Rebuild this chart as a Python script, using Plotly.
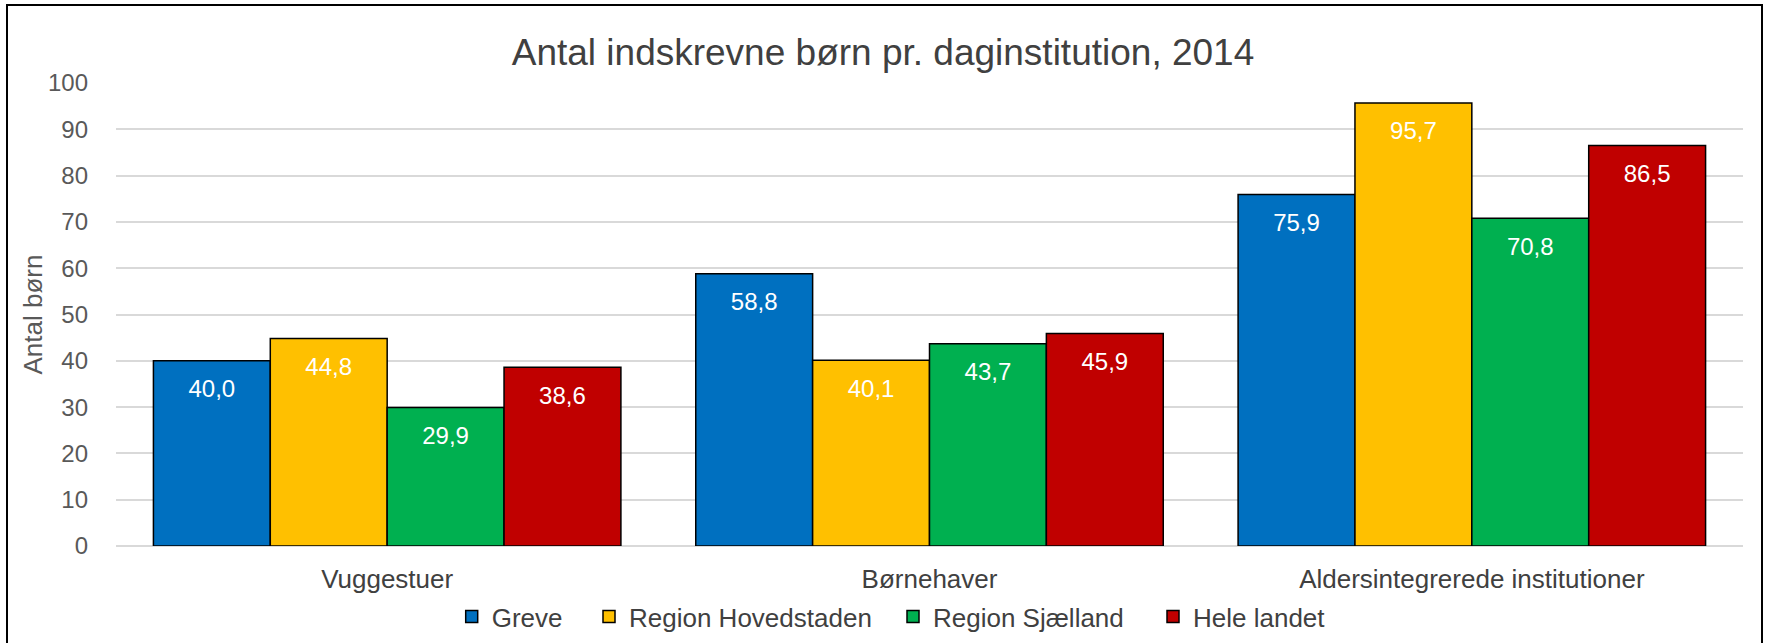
import plotly.graph_objects as go

categories = ["Vuggestuer", "Børnehaver", "Aldersintegrerede institutioner"]
series_names = ["Greve", "Region Hovedstaden", "Region Sjælland", "Hele landet"]
greve = [40.0, 58.8, 75.9]
hovedstaden = [44.8, 40.1, 95.7]
sjaelland = [29.9, 43.7, 70.8]
hele_landet = [38.6, 45.9, 86.5]
colors = ["#0070C0", "#FFC000", "#00B050", "#C00000"]
y_ticks = [0, 10, 20, 30, 40, 50, 60, 70, 80, 90, 100]

values = [greve, hovedstaden, sjaelland, hele_landet]

FONT = "Liberation Sans, Arial, sans-serif"
W, H = 1766, 643
L, R, T, B = 116, 23, 83, 97
pw, ph = W - L - R, H - T - B

def px_x(p):
    return (p - L) / pw

def px_y(p):
    return (H - B - p) / ph

# left edge (px) of each legend swatch in the reference
legend_left_px = [466.7, 604, 908, 1168]
legend_ids = ["legend", "legend2", "legend3", "legend4"]

fig = go.Figure()
for name, vals, col, lid in zip(series_names, values, colors, legend_ids):
    fig.add_trace(go.Bar(
        x=categories, y=vals, name=name,
        marker=dict(color=col, line=dict(color="#000000", width=1.5)),
        offsetgroup=name, hoverinfo="skip", legend=lid,
    ))
for name, vals in zip(series_names, values):
    fig.add_trace(go.Scatter(
        x=categories, y=vals, mode="markers+text",
        text=[f"{v:.1f}".replace(".", ",") for v in vals],
        textposition="bottom center",
        textfont=dict(family=FONT, size=24, color="#FFFFFF"),
        marker=dict(size=28, opacity=0),
        offsetgroup=name, showlegend=False, hoverinfo="skip",
    ))

legend_layout = {}
for lid, lx in zip(legend_ids, legend_left_px):
    legend_layout[lid] = dict(
        orientation="h", x=px_x(lx - 15), xanchor="left",
        y=px_y(616.7), yanchor="middle",
        font=dict(family=FONT, size=26, color="#404040"),
        bgcolor="rgba(0,0,0,0)",
    )

fig.update_layout(
    width=W, height=H,
    margin=dict(l=L, r=R, t=T, b=B, autoexpand=False),
    paper_bgcolor="#FFFFFF", plot_bgcolor="#FFFFFF",
    barmode="group", bargap=0.138, bargroupgap=0,
    scattermode="group", scattergap=0.138,
    font=dict(family=FONT, color="#595959"),
    title=dict(text="Antal indskrevne børn pr. daginstitution, 2014",
               x=0.5, xref="container", xanchor="center",
               y=1 - 52 / H, yref="container", yanchor="middle",
               font=dict(family=FONT, size=37, color="#404040")),
    xaxis=dict(showgrid=False, showline=False, ticks="",
               tickfont=dict(family=FONT, size=26, color="#404040"),
               ticklabelstandoff=15),
    yaxis=dict(range=[0, 100], tickvals=y_ticks, showgrid=True,
               gridcolor="#D9D9D9", gridwidth=1.5,
               zeroline=True, zerolinecolor="#D9D9D9", zerolinewidth=1.5,
               showline=False, ticks="",
               tickfont=dict(family=FONT, size=24, color="#595959"),
               ticklabelstandoff=27),
    annotations=[dict(text="Antal børn", xref="paper", yref="paper",
                      x=px_x(32), y=0.5, xanchor="center", yanchor="middle",
                      textangle=-90, showarrow=False,
                      font=dict(family=FONT, size=26, color="#595959"))],
    shapes=[dict(type="rect", xref="paper", yref="paper",
                 x0=px_x(7), x1=px_x(1762), y0=px_y(652), y1=px_y(5),
                 line=dict(color="#000000", width=2), layer="above")],
    **legend_layout,
)

fig.write_html(
    "out.html",
    config={"displayModeBar": False},
    post_script="document.body.style.margin='0';document.body.style.overflow='hidden';",
)
